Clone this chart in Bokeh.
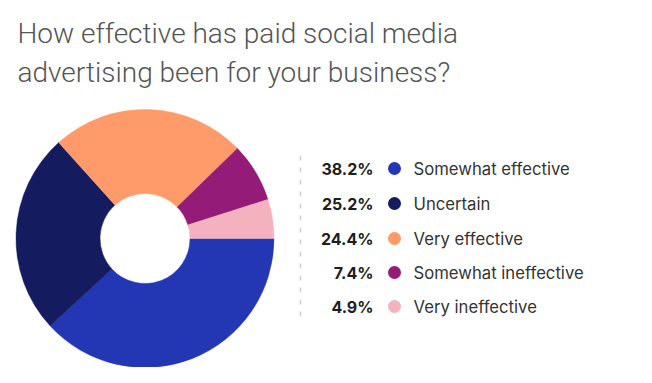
import numpy as np
from bokeh.plotting import figure
from bokeh.models import Range1d, ColumnDataSource
from bokeh.core.properties import value
from bokeh.embed import file_html
from bokeh.resources import INLINE

# ---- data ----
categories = ["Somewhat effective", "Uncertain", "Very effective",
              "Somewhat ineffective", "Very ineffective"]
shares = [38.2, 25.2, 24.4, 7.4, 4.9]
pct_labels = ["38.2%", "25.2%", "24.4%", "7.4%", "4.9%"]
colors = ["#2337B4", "#141C5F", "#FF9A6A", "#951B78", "#F3B2BE"]
title_lines = ["How effective has paid social media",
               "advertising been for your business?"]

W, H = 636, 367
p = figure(width=W, height=H, output_backend="svg", toolbar_location=None,
           x_range=Range1d(0, W), y_range=Range1d(H, 0),
           min_border=0, outline_line_color=None)
p.axis.visible = False
p.grid.visible = False
p.background_fill_color = "white"
p.border_fill_color = "white"

# donut (clockwise from 3 o'clock)
total = sum(shares)
frac = np.array(shares) / total
ends = np.cumsum(frac) * 2 * np.pi
starts = np.concatenate([[0], ends[:-1]])
src = ColumnDataSource(dict(start=-starts, end=-ends, color=colors))
p.annular_wedge(x=144.5, y=238, inner_radius=45, outer_radius=129,
                inner_radius_units="screen", outer_radius_units="screen",
                start_angle="start", end_angle="end", direction="clock",
                fill_color="color", line_color="color", line_width=0.5,
                source=src)

# legend
row_y = [168, 203, 238, 272, 306]
lsrc = ColumnDataSource(dict(y=row_y, pct=pct_labels, cat=categories, color=colors))
p.segment(x0=300, y0=155, x1=300, y1=320, line_color="#D0D0D0",
          line_width=1.5, line_dash="5 7")
p.text(x=373, y="y", text="pct", source=lsrc, text_align="right",
       text_baseline="middle", text_font=value("Inter"), text_font_style="bold",
       text_font_size="16px", text_color="#1E1E1E")
p.scatter(x=394, y="y", size=13, fill_color="color", line_color=None, source=lsrc)
p.text(x=413, y="y", text="cat", source=lsrc, text_align="left",
       text_baseline="middle", text_font=value("Inter"),
       text_font_size="16.7px", text_color="#333333")

# title
p.text(x=[17, 17], y=[33, 72], text=title_lines, text_align="left",
       text_baseline="alphabetic", text_font=value("Roboto Light"),
       text_font_size="28px", text_color="#555555")

open("out.html", "w").write(file_html(p, INLINE))
